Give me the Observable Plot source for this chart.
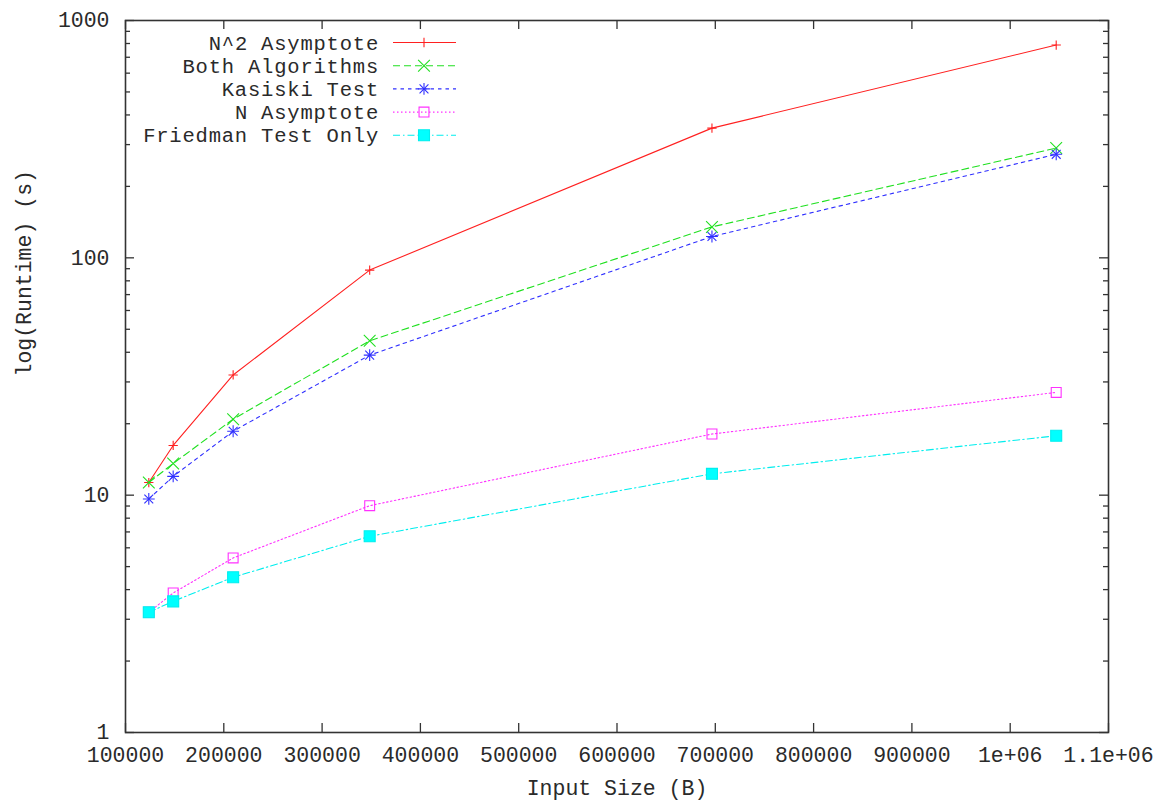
<!DOCTYPE html>
<html>
<head>
<meta charset="utf-8">
<script src="https://cdn.jsdelivr.net/npm/d3@7"></script>
<script src="https://cdn.jsdelivr.net/npm/@observablehq/plot@0.6"></script>
<style>
  html, body { margin: 0; padding: 0; background: #fff; }
  #chart { width: 1164px; height: 802px; }
</style>
</head>
<body>
<div id="chart"></div>
<script>
// ---- data ----
const inputSizes = [123700, 148500, 209500, 348400, 696600, 1046800];
const n2Asymptote = [11.3, 16.2, 32.1, 88.8, 352, 788];
const bothAlgorithms = [11.3, 13.6, 20.9, 44.7, 135, 290];
const kasiskiTest = [9.64, 12.0, 18.6, 38.9, 123, 273];
const nAsymptote = [3.21, 3.87, 5.44, 9.03, 18.1, 27.1];
const friedmanOnly = [3.21, 3.57, 4.51, 6.71, 12.3, 17.8];

const seriesNames = ["N^2 Asymptote", "Both Algorithms", "Kasiski Test", "N Asymptote", "Friedman Test Only"];
const seriesValues = [n2Asymptote, bothAlgorithms, kasiskiTest, nAsymptote, friedmanOnly];

const xTicks = [100000, 200000, 300000, 400000, 500000, 600000, 700000, 800000, 900000, 1000000, 1100000];
const xTickLabels = ["100000", "200000", "300000", "400000", "500000", "600000", "700000", "800000", "900000", "1e+06", "1.1e+06"];
const yTicks = [1, 10, 100, 1000];
const yTickLabels = ["1", "10", "100", "1000"];
const yMinorTicks = [2,3,4,5,6,7,8,9,20,30,40,50,60,70,80,90,200,300,400,500,600,700,800,900];

// ---- styles ----
const styles = [
  {color: "#ff2020", dash: null, symbols: [{symbol: "plus", r: 3.1, fill: "none"}]},
  {color: "#20e020", dash: "7,4", symbols: [{symbol: "times", r: 5.4, fill: "none"}]},
  {color: "#3030ff", dash: "3.5,4", symbols: [{symbol: "plus", r: 3.9, fill: "none"}, {symbol: "times", r: 4.1, fill: "none"}]},
  {color: "#ff30ff", dash: "1.5,2.5", symbols: [{symbol: "square2", r: 6.3, fill: "none"}]},
  {color: "#00eeee", dash: "7,3,1.5,3", symbols: [{symbol: "square", r: 6.2, fill: "#00ffff"}]}
];

const W = 1164, H = 802;
const mL = 125, mR = 56, mT = 20, mB = 70;
const innerW = W - mL - mR, innerH = H - mT - mB;
const majorLen = 9, minorLen = 5;
const axisColor = "#333";
const textColor = "#2a2a2a";
const monoFont = "'Liberation Mono', 'DejaVu Sans Mono', monospace";

const table = seriesNames.map((name, i) => inputSizes.map((x, j) => ({series: name, x, y: seriesValues[i][j]})));

const marks = [];
// ticks (inward, mirrored on all four sides)
marks.push(Plot.ruleX(xTicks, {x: d => d, insetTop: innerH - majorLen, stroke: axisColor, strokeWidth: 1.3}));
marks.push(Plot.ruleX(xTicks, {x: d => d, insetBottom: innerH - majorLen, stroke: axisColor, strokeWidth: 1.3}));
marks.push(Plot.ruleY(yTicks, {y: d => d, insetRight: innerW - majorLen, stroke: axisColor, strokeWidth: 1.3}));
marks.push(Plot.ruleY(yTicks, {y: d => d, insetLeft: innerW - majorLen, stroke: axisColor, strokeWidth: 1.3}));
marks.push(Plot.ruleY(yMinorTicks, {y: d => d, insetRight: innerW - minorLen, stroke: axisColor, strokeWidth: 1.3}));
marks.push(Plot.ruleY(yMinorTicks, {y: d => d, insetLeft: innerW - minorLen, stroke: axisColor, strokeWidth: 1.3}));
marks.push(Plot.frame({stroke: axisColor, strokeWidth: 1.6}));

// tick labels
marks.push(Plot.text(xTicks, {x: d => d, text: (d, i) => xTickLabels[i], frameAnchor: "bottom", dy: 23, lineAnchor: "middle", fill: textColor}));
marks.push(Plot.text(yTicks, {y: d => d, text: (d, i) => yTickLabels[i], frameAnchor: "left", dx: -16, textAnchor: "end", lineAnchor: "middle", fill: textColor}));
// axis titles
marks.push(Plot.text(["Input Size (B)"], {text: d => d, frameAnchor: "bottom", dy: 56, lineAnchor: "middle", fill: textColor}));
marks.push(Plot.text(["log(Runtime) (s)"], {text: d => d, frameAnchor: "left", dx: -101, rotate: -90, lineAnchor: "middle", fill: textColor}));

// series
table.forEach((rows, i) => {
  const s = styles[i];
  marks.push(Plot.line(rows, {x: "x", y: "y", stroke: s.color, strokeWidth: 1.1, strokeDasharray: s.dash || undefined}));
  s.symbols.forEach(sym => {
    marks.push(Plot.dot(rows, {x: "x", y: "y", symbol: sym.symbol, r: sym.r, stroke: s.color, fill: sym.fill, strokeWidth: 1.1}));
  });
});

const chart = Plot.plot({
  width: W, height: H,
  marginLeft: mL, marginRight: mR, marginTop: mT, marginBottom: mB,
  x: {domain: [100000, 1100000], axis: null},
  y: {type: "log", domain: [1, 1000], axis: null},
  style: {fontFamily: monoFont, fontSize: "21.5px", background: "#fff", overflow: "visible"},
  marks
});
document.getElementById("chart").appendChild(chart);

// ---- legend (gnuplot style, top-left inside the frame) ----
const svg = d3.select(chart);
const lg = svg.append("g").attr("font-family", monoFont).attr("font-size", 20.5).attr("letter-spacing", "0.8px");
const symbolMap = {plus: d3.symbolPlus, times: d3.symbolTimes, square2: d3.symbolSquare2, square: d3.symbolSquare};
const textRight = 379, lineX1 = 393, lineX2 = 456, markX = 424, row0 = 42.5, rowStep = 23.2;
seriesNames.forEach((name, i) => {
  const s = styles[i];
  const yy = row0 + i * rowStep;
  lg.append("text").attr("x", textRight).attr("y", yy).attr("dy", "0.35em")
    .attr("text-anchor", "end").attr("fill", textColor).text(name);
  lg.append("line").attr("x1", lineX1).attr("x2", lineX2).attr("y1", yy).attr("y2", yy)
    .attr("stroke", s.color).attr("stroke-width", 1.1).attr("stroke-dasharray", s.dash || null);
  s.symbols.forEach(sym => {
    lg.append("path").attr("transform", `translate(${markX},${yy})`)
      .attr("d", d3.symbol(symbolMap[sym.symbol], Math.PI * sym.r * sym.r)())
      .attr("stroke", s.color).attr("fill", sym.fill).attr("stroke-width", 1.1);
  });
});
</script>
</body>
</html>
